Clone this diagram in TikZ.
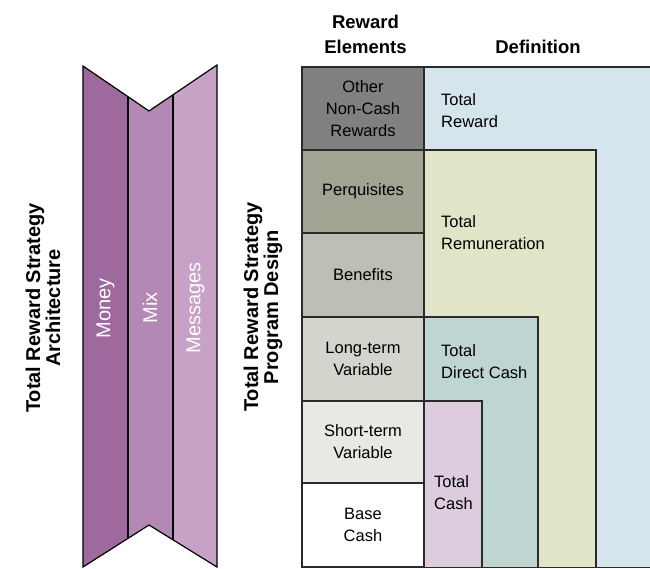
\documentclass[tikz,border=0pt]{standalone}
\usepackage{fontspec}
\setmainfont{Liberation Sans}
\usetikzlibrary{positioning}

\definecolor{cMoney}{HTML}{9E6A9E}
\definecolor{cMix}{HTML}{B488B4}
\definecolor{cMsg}{HTML}{C8A2C6}
\definecolor{cOther}{HTML}{808080}
\definecolor{cPerq}{HTML}{A3A394}
\definecolor{cBen}{HTML}{BEBEB4}
\definecolor{cLong}{HTML}{D4D3CC}
\definecolor{cShort}{HTML}{E8E8E4}
\definecolor{cTR}{HTML}{D6E4EC}
\definecolor{cRem}{HTML}{E1E5C8}
\definecolor{cTDC}{HTML}{BED5D2}
\definecolor{cTC}{HTML}{DCCCDE}
\definecolor{cLine}{HTML}{2A2A2A}

\begin{document}
\begin{tikzpicture}[x=1pt,y=-1pt,
  rule/.style={draw=cLine,line width=1.2pt},
  cell/.style={rule,minimum width=122pt,inner sep=0pt,align=center,
    font=\fontsize{16.5}{22}\selectfont},
  deflabel/.style={anchor=west,inner sep=0pt,align=left,
    font=\fontsize{16.5}{22}\selectfont},
  header/.style={align=center,inner sep=0pt,
    font=\bfseries\fontsize{18.5}{25}\selectfont},
  sidelabel/.style={rotate=90,align=center,inner sep=0pt,
    font=\bfseries\fontsize{20}{20}\selectfont},
  bannertext/.style={rotate=90,inner sep=0pt,text=white,
    font=\fontsize{20}{20}\selectfont},
  bannerline/.style={draw=black,line width=1.2pt,line join=miter}]
\useasboundingbox (0,0) rectangle (650,568);

% ---- banner: Money / Mix / Messages ----
\coordinate (tl) at (83,66);
\coordinate (tm) at (149,111);
\coordinate (tr) at (217,65);
\coordinate (br) at (217,567);
\coordinate (bm) at (149,525);
\coordinate (bl) at (83,567);
\coordinate (d1t) at (128,96.7);
\coordinate (d1b) at (128,538.4);
\coordinate (d2t) at (173,94.8);
\coordinate (d2b) at (173,539.8);

\fill[cMoney] (tl) -- (d1t) -- (d1b) -- (bl) -- cycle;
\fill[cMix] (d1t) -- (tm) -- (d2t) -- (d2b) -- (bm) -- (d1b) -- cycle;
\fill[cMsg] (d2t) -- (tr) -- (br) -- (d2b) -- cycle;
\draw[bannerline] (tl) -- (tm) -- (tr) -- (br) -- (bm) -- (bl) -- cycle;
\draw[bannerline] (d1t) -- (d1b);
\draw[bannerline] (d2t) -- (d2b);

\node[bannertext] (money) at (105.5,308) {Money};
\node[bannertext] (mix) at (150,308) {Mix};
\node[bannertext] (msg) at (195.5,308) {Messages};

% ---- side labels ----
\node[sidelabel] (arch) at (43,308) {Total Reward Strategy\\Architecture};
\node[sidelabel] (prog) at (263,307) {Total Reward Strategy\\Program Design};

% ---- column headers ----
\node[header] (hdrel) at (365.5,34.5) {Reward\\Elements};
\node[header] (hdrdef) at (538,47) {Definition};

% ---- definition areas (nested) ----
\fill[cTR] (424,67) rectangle (650,568);
\filldraw[fill=cRem,rule] (424,568) -- (424,150) -- (596,150) -- (596,568);
\filldraw[fill=cTDC,rule] (424,568) -- (424,317) -- (538,317) -- (538,568);
\filldraw[fill=cTC,rule] (424,568) -- (424,401) -- (482,401) -- (482,568);

\node[deflabel] (dtr) at (441,111) {Total\\Reward};
\node[deflabel] (drem) at (441,233) {Total\\Remuneration};
\node[deflabel] (dtdc) at (441,361.5) {Total\\Direct Cash};
\node[deflabel] (dtc) at (434,492.5) {Total\\Cash};

% ---- reward elements column ----
\node[cell,fill=cOther,minimum height=83pt] (other) at (363,108.5)
  {Other\\Non-Cash\\Rewards};
\node[cell,fill=cPerq,minimum height=83pt] (perq) at (363,191.5) {Perquisites};
\node[cell,fill=cBen,minimum height=84pt] (ben) at (363,275) {Benefits};
\node[cell,fill=cLong,minimum height=84pt] (long) at (363,359) {Long-term\\Variable};
\node[cell,fill=cShort,minimum height=82pt] (short) at (363,442) {Short-term\\Variable};
\node[cell,fill=white,minimum height=84pt] (base) at (363,525) {Base\\Cash};

% ---- table frame ----
\draw[rule] (302,67) -- (650,67);
\draw[rule] (424,67) -- (424,568);
\draw[rule] (302,567.4) -- (650,567.4);
\end{tikzpicture}
\end{document}
